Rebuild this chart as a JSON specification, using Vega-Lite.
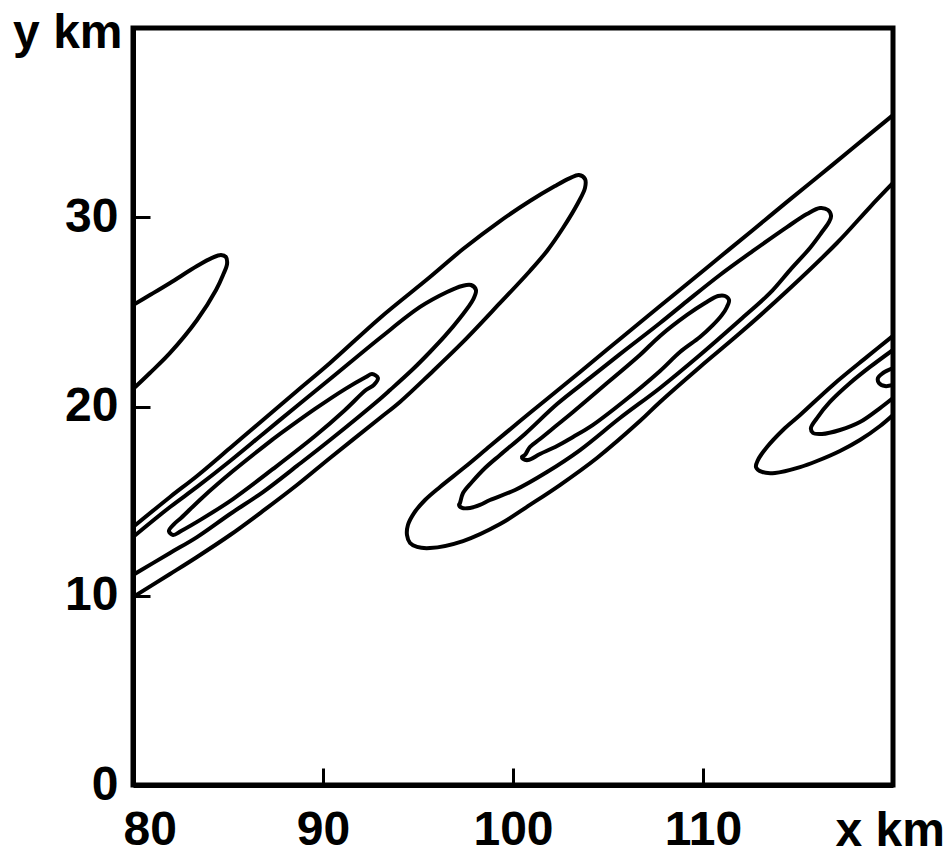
{
  "$schema": "https://vega.github.io/schema/vega-lite/v6.json",
  "width": 760,
  "height": 757,
  "autosize": {"type": "none"},
  "padding": {"left": 133, "top": 28, "right": 57, "bottom": 69},
  "background": "white",
  "config": {"view": {"stroke": "black", "strokeWidth": 5}},
  "data": {"values": [
    {"c":"A","i":1,"x":80,"y":25.36},{"c":"A","i":2,"x":80.89,"y":25.89},{"c":"A","i":3,"x":81.95,"y":26.53},{"c":"A","i":4,"x":83.37,"y":27.42},{"c":"A","i":5,"x":84.16,"y":27.85},{"c":"A","i":6,"x":84.63,"y":28.01},{"c":"A","i":7,"x":84.89,"y":27.9},{"c":"A","i":8,"x":84.95,"y":27.53},{"c":"A","i":9,"x":84.74,"y":26.95},{"c":"A","i":10,"x":84.37,"y":26.16},{"c":"A","i":11,"x":83.37,"y":24.57},{"c":"A","i":12,"x":81.95,"y":22.83},{"c":"A","i":13,"x":80.89,"y":21.77},{"c":"A","i":14,"x":80,"y":20.92},

    {"c":"B1","i":1,"x":80,"y":13.63},{"c":"B1","i":2,"x":81.95,"y":15.22},{"c":"B1","i":3,"x":83.37,"y":16.33},{"c":"B1","i":4,"x":85.11,"y":17.81},{"c":"B1","i":5,"x":86.84,"y":19.29},{"c":"B1","i":6,"x":88.63,"y":20.82},{"c":"B1","i":7,"x":90.37,"y":22.3},{"c":"B1","i":8,"x":93.0,"y":24.68},{"c":"B1","i":9,"x":95.63,"y":26.84},{"c":"B1","i":10,"x":97.37,"y":28.32},{"c":"B1","i":11,"x":99.32,"y":29.8},{"c":"B1","i":12,"x":100.89,"y":30.86},{"c":"B1","i":13,"x":102.21,"y":31.65},{"c":"B1","i":14,"x":103.0,"y":32.07},{"c":"B1","i":15,"x":103.47,"y":32.23},{"c":"B1","i":16,"x":103.79,"y":32.02},{"c":"B1","i":17,"x":103.79,"y":31.55},{"c":"B1","i":18,"x":103.42,"y":30.75},{"c":"B1","i":19,"x":102.63,"y":29.43},{"c":"B1","i":20,"x":101.79,"y":28.22},{"c":"B1","i":21,"x":100.89,"y":27.16},{"c":"B1","i":22,"x":99.32,"y":25.47},{"c":"B1","i":23,"x":97.37,"y":23.41},{"c":"B1","i":24,"x":95.63,"y":21.72},{"c":"B1","i":25,"x":94.05,"y":20.24},{"c":"B1","i":26,"x":93.0,"y":19.39},{"c":"B1","i":27,"x":90.37,"y":17.28},{"c":"B1","i":28,"x":88.63,"y":15.85},{"c":"B1","i":29,"x":86.84,"y":14.48},{"c":"B1","i":30,"x":85.11,"y":13.21},{"c":"B1","i":31,"x":83.37,"y":12.05},{"c":"B1","i":32,"x":81.95,"y":11.15},{"c":"B1","i":33,"x":80,"y":9.93},

    {"c":"B2","i":1,"x":80,"y":13.1},{"c":"B2","i":2,"x":81.95,"y":14.69},{"c":"B2","i":3,"x":83.37,"y":15.75},{"c":"B2","i":4,"x":85.11,"y":17.12},{"c":"B2","i":5,"x":86.84,"y":18.55},{"c":"B2","i":6,"x":88.63,"y":20.03},{"c":"B2","i":7,"x":90.37,"y":21.45},{"c":"B2","i":8,"x":93.0,"y":23.62},{"c":"B2","i":9,"x":95.11,"y":25.26},{"c":"B2","i":10,"x":96.53,"y":26.05},{"c":"B2","i":11,"x":97.32,"y":26.37},{"c":"B2","i":12,"x":97.79,"y":26.42},{"c":"B2","i":13,"x":98.05,"y":26.16},{"c":"B2","i":14,"x":97.89,"y":25.63},{"c":"B2","i":15,"x":97.21,"y":24.68},{"c":"B2","i":16,"x":96.42,"y":23.73},{"c":"B2","i":17,"x":95.63,"y":22.88},{"c":"B2","i":18,"x":94.74,"y":21.98},{"c":"B2","i":19,"x":93.53,"y":20.87},{"c":"B2","i":20,"x":93.0,"y":20.4},{"c":"B2","i":21,"x":90.37,"y":18.23},{"c":"B2","i":22,"x":88.63,"y":16.86},{"c":"B2","i":23,"x":86.84,"y":15.48},{"c":"B2","i":24,"x":85.11,"y":14.32},{"c":"B2","i":25,"x":83.37,"y":13.1},{"c":"B2","i":26,"x":81.95,"y":12.26},{"c":"B2","i":27,"x":80,"y":11.1},

    {"c":"B3","i":1,"x":87.37,"y":18.28},{"c":"B3","i":2,"x":89.58,"y":19.87},{"c":"B3","i":3,"x":91.16,"y":20.92},{"c":"B3","i":4,"x":92.26,"y":21.56},{"c":"B3","i":5,"x":92.58,"y":21.72},{"c":"B3","i":6,"x":92.89,"y":21.51},{"c":"B3","i":7,"x":92.68,"y":21.14},{"c":"B3","i":8,"x":92.26,"y":20.87},{"c":"B3","i":9,"x":91.16,"y":19.82},{"c":"B3","i":10,"x":89.58,"y":18.44},{"c":"B3","i":11,"x":87.37,"y":16.7},{"c":"B3","i":12,"x":85.26,"y":15.11},{"c":"B3","i":13,"x":83.63,"y":14.06},{"c":"B3","i":14,"x":82.53,"y":13.42},{"c":"B3","i":15,"x":82.11,"y":13.21},{"c":"B3","i":16,"x":81.89,"y":13.42},{"c":"B3","i":17,"x":82.16,"y":13.79},{"c":"B3","i":18,"x":82.53,"y":14.11},{"c":"B3","i":19,"x":83.63,"y":15.17},{"c":"B3","i":20,"x":85.26,"y":16.59},{"c":"B3","i":21,"x":87.37,"y":18.28},

    {"c":"C1","i":1,"x":120,"y":35.4},{"c":"C1","i":2,"x":117.89,"y":33.66},{"c":"C1","i":3,"x":116.16,"y":32.23},{"c":"C1","i":4,"x":114.42,"y":30.81},{"c":"C1","i":5,"x":112.63,"y":29.33},{"c":"C1","i":6,"x":110.89,"y":27.9},{"c":"C1","i":7,"x":109.16,"y":26.47},{"c":"C1","i":8,"x":107.74,"y":25.31},{"c":"C1","i":9,"x":105.63,"y":23.57},{"c":"C1","i":10,"x":103.53,"y":21.82},{"c":"C1","i":11,"x":101.79,"y":20.4},{"c":"C1","i":12,"x":100.37,"y":19.23},{"c":"C1","i":13,"x":98.79,"y":17.91},{"c":"C1","i":14,"x":97.47,"y":16.8},{"c":"C1","i":15,"x":96.16,"y":15.75},{"c":"C1","i":16,"x":95.37,"y":15.06},{"c":"C1","i":17,"x":94.79,"y":14.37},{"c":"C1","i":18,"x":94.47,"y":13.74},{"c":"C1","i":19,"x":94.42,"y":13.21},{"c":"C1","i":20,"x":94.58,"y":12.79},{"c":"C1","i":21,"x":94.95,"y":12.58},{"c":"C1","i":22,"x":95.63,"y":12.52},{"c":"C1","i":23,"x":97.37,"y":12.89},{"c":"C1","i":24,"x":99.32,"y":13.79},{"c":"C1","i":25,"x":100.89,"y":14.8},{"c":"C1","i":26,"x":102.47,"y":15.85},{"c":"C1","i":27,"x":104.42,"y":17.28},{"c":"C1","i":28,"x":106.68,"y":19.23},{"c":"C1","i":29,"x":107.74,"y":20.24},{"c":"C1","i":30,"x":109.84,"y":22.09},{"c":"C1","i":31,"x":111.95,"y":23.88},{"c":"C1","i":32,"x":114.42,"y":26.1},{"c":"C1","i":33,"x":117.05,"y":28.64},{"c":"C1","i":34,"x":118.79,"y":30.54},{"c":"C1","i":35,"x":120,"y":31.81},

    {"c":"C2","i":1,"x":105.63,"y":22.77},{"c":"C2","i":2,"x":107.74,"y":24.41},{"c":"C2","i":3,"x":109.16,"y":25.57},{"c":"C2","i":4,"x":110.89,"y":26.95},{"c":"C2","i":5,"x":112.63,"y":28.22},{"c":"C2","i":6,"x":114.42,"y":29.48},{"c":"C2","i":7,"x":115.47,"y":30.17},{"c":"C2","i":8,"x":116.16,"y":30.49},{"c":"C2","i":9,"x":116.58,"y":30.38},{"c":"C2","i":10,"x":116.74,"y":30.07},{"c":"C2","i":11,"x":116.63,"y":29.75},{"c":"C2","i":12,"x":116.26,"y":29.22},{"c":"C2","i":13,"x":115.63,"y":28.38},{"c":"C2","i":14,"x":114.58,"y":27.21},{"c":"C2","i":15,"x":113.53,"y":26.0},{"c":"C2","i":16,"x":111.95,"y":24.57},{"c":"C2","i":17,"x":109.84,"y":22.72},{"c":"C2","i":18,"x":107.74,"y":20.98},{"c":"C2","i":19,"x":105.63,"y":19.39},{"c":"C2","i":20,"x":103.53,"y":17.7},{"c":"C2","i":21,"x":101.79,"y":16.54},{"c":"C2","i":22,"x":100.11,"y":15.59},{"c":"C2","i":23,"x":98.79,"y":15.06},{"c":"C2","i":24,"x":98.26,"y":14.8},{"c":"C2","i":25,"x":97.74,"y":14.64},{"c":"C2","i":26,"x":97.32,"y":14.64},{"c":"C2","i":27,"x":97.16,"y":14.8},{"c":"C2","i":28,"x":97.21,"y":14.9},{"c":"C2","i":29,"x":97.37,"y":15.43},{"c":"C2","i":30,"x":97.84,"y":16.01},{"c":"C2","i":31,"x":98.53,"y":16.75},{"c":"C2","i":32,"x":99.32,"y":17.44},{"c":"C2","i":33,"x":100.63,"y":18.55},{"c":"C2","i":34,"x":102.32,"y":20.13},{"c":"C2","i":35,"x":104.05,"y":21.51},{"c":"C2","i":36,"x":105.63,"y":22.77},

    {"c":"C3","i":1,"x":104.95,"y":21.24},{"c":"C3","i":2,"x":106.68,"y":22.72},{"c":"C3","i":3,"x":107.74,"y":23.73},{"c":"C3","i":4,"x":109.16,"y":24.84},{"c":"C3","i":5,"x":110.11,"y":25.47},{"c":"C3","i":6,"x":110.79,"y":25.84},{"c":"C3","i":7,"x":111.16,"y":25.84},{"c":"C3","i":8,"x":111.37,"y":25.63},{"c":"C3","i":9,"x":111.26,"y":25.26},{"c":"C3","i":10,"x":111.0,"y":24.84},{"c":"C3","i":11,"x":110.53,"y":24.31},{"c":"C3","i":12,"x":109.84,"y":23.67},{"c":"C3","i":13,"x":108.79,"y":22.88},{"c":"C3","i":14,"x":107.74,"y":21.88},{"c":"C3","i":15,"x":105.79,"y":20.24},{"c":"C3","i":16,"x":104.05,"y":18.92},{"c":"C3","i":17,"x":103.16,"y":18.39},{"c":"C3","i":18,"x":102.32,"y":17.91},{"c":"C3","i":19,"x":101.42,"y":17.49},{"c":"C3","i":20,"x":100.79,"y":17.17},{"c":"C3","i":21,"x":100.53,"y":17.23},{"c":"C3","i":22,"x":100.47,"y":17.33},{"c":"C3","i":23,"x":100.63,"y":17.44},{"c":"C3","i":24,"x":100.89,"y":17.86},{"c":"C3","i":25,"x":101.42,"y":18.28},{"c":"C3","i":26,"x":102.32,"y":19.02},{"c":"C3","i":27,"x":103.16,"y":19.71},{"c":"C3","i":28,"x":104.95,"y":21.24},

    {"c":"D1","i":1,"x":120,"y":23.73},{"c":"D1","i":2,"x":118.63,"y":22.62},{"c":"D1","i":3,"x":116.84,"y":21.14},{"c":"D1","i":4,"x":115.11,"y":19.55},{"c":"D1","i":5,"x":114.21,"y":18.76},{"c":"D1","i":6,"x":113.37,"y":17.86},{"c":"D1","i":7,"x":112.89,"y":17.17},{"c":"D1","i":8,"x":112.79,"y":16.8},{"c":"D1","i":9,"x":113.11,"y":16.54},{"c":"D1","i":10,"x":113.79,"y":16.49},{"c":"D1","i":11,"x":115.11,"y":16.8},{"c":"D1","i":12,"x":116.0,"y":17.12},{"c":"D1","i":13,"x":117.21,"y":17.65},{"c":"D1","i":14,"x":118.26,"y":18.23},{"c":"D1","i":15,"x":119.32,"y":18.97},{"c":"D1","i":16,"x":120,"y":19.55},

    {"c":"D2","i":1,"x":120,"y":22.99},{"c":"D2","i":2,"x":118.79,"y":22.09},{"c":"D2","i":3,"x":117.74,"y":21.24},{"c":"D2","i":4,"x":116.68,"y":20.24},{"c":"D2","i":5,"x":116.0,"y":19.39},{"c":"D2","i":6,"x":115.68,"y":18.86},{"c":"D2","i":7,"x":115.79,"y":18.6},{"c":"D2","i":8,"x":116.26,"y":18.55},{"c":"D2","i":9,"x":117.21,"y":18.76},{"c":"D2","i":10,"x":118.26,"y":19.18},{"c":"D2","i":11,"x":119.32,"y":19.92},{"c":"D2","i":12,"x":120,"y":20.45},

    {"c":"D3","i":1,"x":120,"y":22.03},{"c":"D3","i":2,"x":119.47,"y":21.77},{"c":"D3","i":3,"x":119.21,"y":21.51},{"c":"D3","i":4,"x":119.26,"y":21.24},{"c":"D3","i":5,"x":119.58,"y":21.08},{"c":"D3","i":6,"x":120,"y":21.14}
  ]},
  "mark": {"type": "line", "interpolate": "catmull-rom", "stroke": "black", "strokeWidth": 4, "clip": true, "strokeJoin": "round", "strokeCap": "round"},
  "encoding": {
    "x": {
      "field": "x", "type": "quantitative",
      "scale": {"domain": [80, 120], "nice": false, "zero": false},
      "axis": {
        "values": [80, 90, 100, 110],
        "grid": false,
        "domainColor": "black", "domainWidth": 5,
        "tickColor": "black", "tickWidth": 3, "tickSize": -17,
        "labelFont": "Liberation Sans", "labelFontSize": 48, "labelFontWeight": "bold", "labelColor": "black",
        "labelPadding": 38, "labelFlush": true, "labelFlushOffset": 10,
        "title": "x km",
        "titleFont": "Liberation Sans", "titleFontSize": 48, "titleFontWeight": "bold", "titleColor": "black",
        "titleAlign": "left", "titleBaseline": "alphabetic", "titleAnchor": "start",
        "titleX": 702, "titleY": 60
      }
    },
    "y": {
      "field": "y", "type": "quantitative",
      "scale": {"domain": [0, 40], "nice": false},
      "axis": {
        "values": [0, 10, 20, 30],
        "grid": false,
        "domainColor": "black", "domainWidth": 5,
        "tickColor": "black", "tickWidth": 3, "tickSize": -17,
        "labelFont": "Liberation Sans", "labelFontSize": 48, "labelFontWeight": "bold", "labelColor": "black",
        "labelPadding": 32,
        "title": "y km",
        "titleFont": "Liberation Sans", "titleFontSize": 48, "titleFontWeight": "bold", "titleColor": "black",
        "titleAngle": 0, "titleAlign": "right", "titleBaseline": "alphabetic", "titleAnchor": "start",
        "titleX": -11, "titleY": 19
      }
    },
    "detail": {"field": "c", "type": "nominal"},
    "order": {"field": "i", "type": "quantitative"}
  }
}
